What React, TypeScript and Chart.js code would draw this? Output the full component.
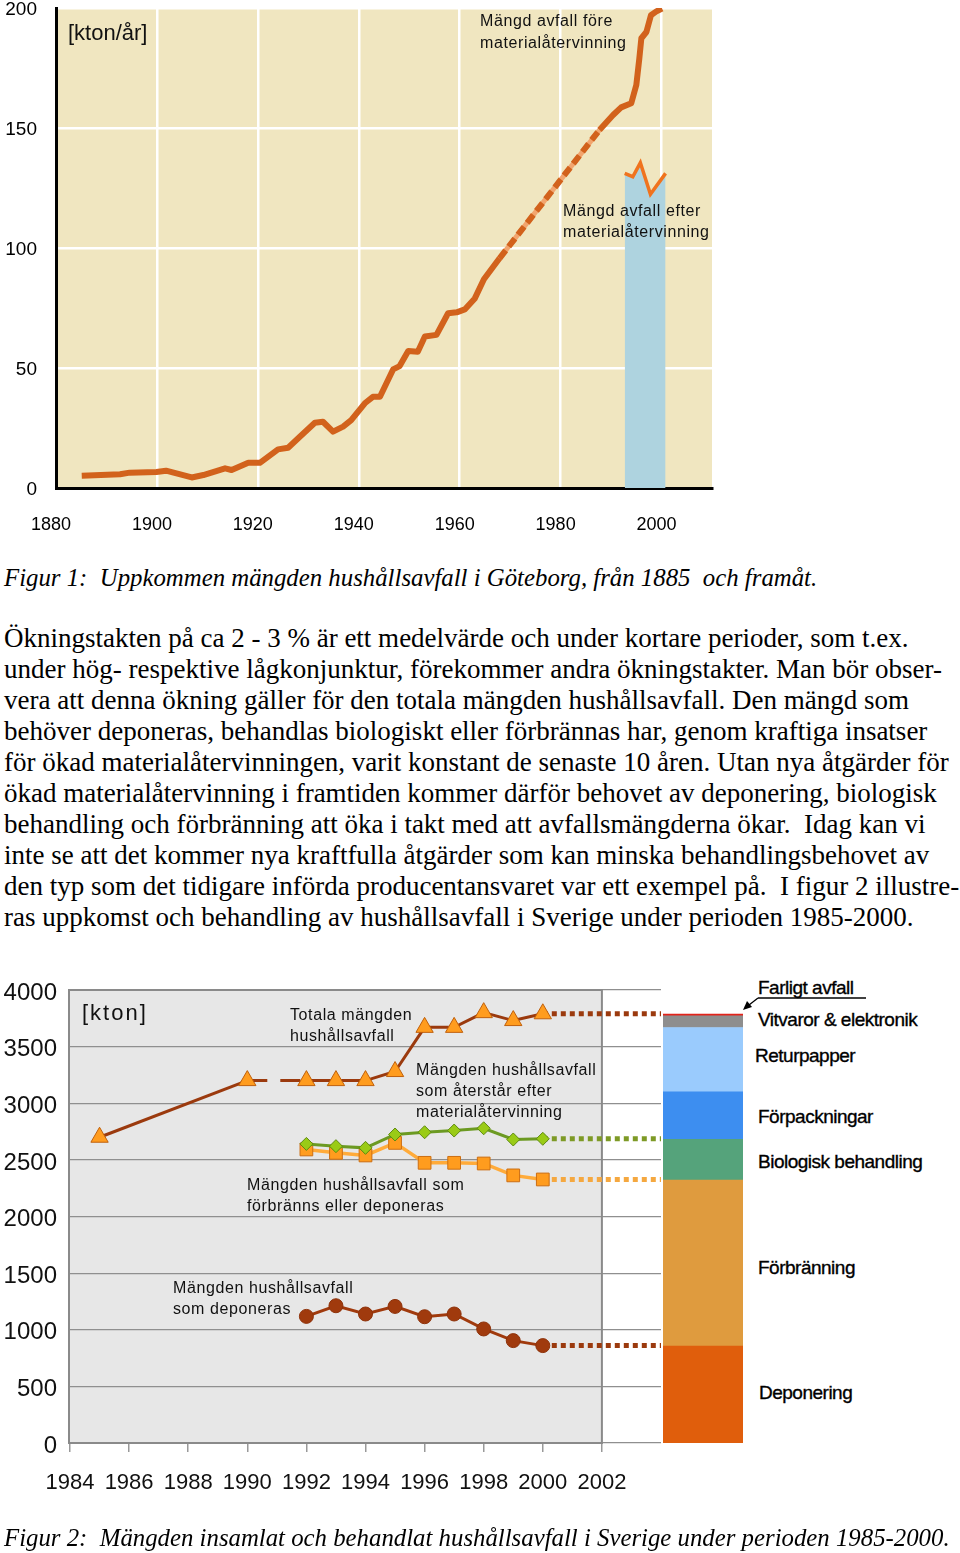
import React, { useEffect, useRef } from 'react';
import { Chart, registerables } from 'chart.js';

Chart.register(...registerables);

// ---------- Figure 1 data (Göteborg, kton/år) ----------
const fig1Years = [
  1885.1, 1892.7, 1894.6, 1899.9, 1901.8, 1906.9, 1909.2, 1913.5, 1914.8, 1918.1,
  1920.4, 1924.0, 1926.0, 1928.0, 1931.3, 1932.9, 1934.9, 1936.9, 1938.5, 1941.2,
  1942.8, 1944.2, 1946.8, 1948.1, 1949.8, 1951.7, 1953.1, 1955.4, 1957.7, 1959.4,
  1961.0, 1963.0, 1964.8, 1967.9, 1987.7, 1990.4, 1992.0, 1994.0, 1995.0, 1995.6,
  1996.0, 1997.0, 1997.9, 1998.9, 2000.1,
];
const fig1Values = [
  5.1, 5.7, 6.4, 6.7, 7.2, 4.4, 5.4, 8.2, 7.5, 10.5,
  10.5, 16.1, 16.8, 20.7, 27.2, 27.6, 23.5, 25.6, 28.3, 35.3,
  38.0, 38.0, 49.4, 50.8, 57.1, 56.8, 63.1, 63.8, 72.8, 73.2,
  74.4, 79.0, 87.0, 95.7, 149.2, 155.4, 158.6, 160.3, 167.9, 179.0,
  187.4, 190.0, 197.0, 198.5, 199.8,
];
const fig1DashedFromYear = 1967.9;
const fig1DashedToYear = 1987.7;
const fig1AfterYears = [1992.7, 1994.3, 1995.8, 1997.8, 2000.8];
const fig1AfterValues = [131.1, 129.7, 135.5, 122.4, 131.1];
const fig1XTicks = [1880, 1900, 1920, 1940, 1960, 1980, 2000];
const fig1YTicks = [0, 50, 100, 150, 200];

// ---------- Figure 2 data (Sverige, kton) ----------
const totalYears = [1985, 1990, 1992, 1993, 1994, 1995, 1996, 1997, 1998, 1999, 2000];
const totalValues = [2700, 3200, 3200, 3200, 3200, 3280, 3670, 3670, 3800, 3730, 3790];
const totalDashedFromYear = 1990;
const seriesYears = [1992, 1993, 1994, 1995, 1996, 1997, 1998, 1999, 2000];
const remainingValues = [2641, 2621, 2606, 2724, 2744, 2759, 2779, 2680, 2686];
const burnedOrLandfilledValues = [2592, 2562, 2539, 2650, 2474, 2474, 2468, 2363, 2327];
const landfilledValues = [1118, 1212, 1139, 1206, 1115, 1139, 1007, 904, 860];
const extensionToYear = 2004;
const fig2XTicks = [1984, 1986, 1988, 1990, 1992, 1994, 1996, 1998, 2000, 2002];
const fig2YTicks = [0, 500, 1000, 1500, 2000, 2500, 3000, 3500, 4000];

const treatmentLabels = [
  'Deponering', 'Förbränning', 'Biologisk behandling', 'Förpackningar',
  'Returpapper', 'Vitvaror & elektronik', 'Farligt avfall',
];
const treatmentValues = [856, 1465, 360, 420, 568, 103, 15];
const treatmentColors = ['#E05E0C', '#DF9B3E', '#55A37B', '#3D8EF0', '#9ACBFD', '#8E8E8E', '#E2231A'];

const paragraphLines = [
  'Ökningstakten på ca 2 - 3 % är ett medelvärde och under kortare perioder, som t.ex.',
  'under hög- respektive lågkonjunktur, förekommer andra ökningstakter. Man bör obser-',
  'vera att denna ökning gäller för den totala mängden hushållsavfall. Den mängd som',
  'behöver deponeras, behandlas biologiskt eller förbrännas har, genom kraftiga insatser',
  'för ökad materialåtervinningen, varit konstant de senaste 10 åren. Utan nya åtgärder för',
  'ökad materialåtervinning i framtiden kommer därför behovet av deponering, biologisk',
  'behandling och förbränning att öka i takt med att avfallsmängderna ökar.  Idag kan vi',
  'inte se att det kommer nya kraftfulla åtgärder som kan minska behandlingsbehovet av',
  'den typ som det tidigare införda producentansvaret var ett exempel på.  I figur 2 illustre-',
  'ras uppkomst och behandling av hushållsavfall i Sverige under perioden 1985-2000.',
];

const SANS = '"Liberation Sans", Arial, Helvetica, sans-serif';
const SERIF = '"Liberation Serif", "Times New Roman", serif';

const pts = (xs: number[], ys: number[]) => xs.map((x, i) => ({ x, y: ys[i] }));

const fixSize = (prop: 'width' | 'height', size: number) => (s: any) => {
  s[prop] = size;
  s.paddingTop = 0;
  s.paddingBottom = 0;
  s.paddingLeft = 0;
  s.paddingRight = 0;
};

function Figure1() {
  const ref = useRef<HTMLCanvasElement>(null);
  useEffect(() => {
    const i0 = fig1Years.indexOf(fig1DashedFromYear);
    const i1 = fig1Years.indexOf(fig1DashedToYear);
    const main = pts(fig1Years, fig1Values);
    const chart = new Chart(ref.current!, {
      type: 'line',
      data: {
        datasets: [
          {
            data: main,
            borderColor: '#D2621C',
            borderWidth: 6,
            pointRadius: 0,
            borderJoinStyle: 'round',
            borderCapStyle: 'butt',
            segment: {
              borderDash: (ctx: any) => (ctx.p0DataIndex === i0 ? [10, 5] : undefined),
            },
          },
          {
            data: main.slice(i0, i1 + 1),
            borderColor: '#F2A56E',
            borderWidth: 5,
            pointRadius: 0,
          },
          {
            data: pts(fig1AfterYears, fig1AfterValues),
            borderColor: '#F0731E',
            borderWidth: 3.5,
            pointRadius: 0,
            fill: 'origin',
            backgroundColor: '#AED3DF',
          },
        ],
      },
      options: {
        animation: false,
        responsive: false,
        layout: { padding: { left: 0, right: 8, top: 8, bottom: 0 }, autoPadding: false } as any,
        plugins: { legend: { display: false }, tooltip: { enabled: false } },
        scales: {
          x: {
            type: 'linear',
            min: 1880,
            max: 2010,
            afterBuildTicks: (s: any) => { s.ticks = fig1XTicks.map((v) => ({ value: v })); },
            afterFit: fixSize('height', 52),
            ticks: {
              color: '#000',
              font: { family: SANS, size: 18 },
              padding: 26,
              labelOffset: -5,
              maxRotation: 0,
              callback: (v: any) => String(v),
            },
            grid: { color: '#FFFFFF', lineWidth: 2.5, drawTicks: false },
            border: { display: true, color: '#000', width: 3 },
          },
          y: {
            min: 0,
            max: 200,
            afterBuildTicks: (s: any) => { s.ticks = fig1YTicks.map((v) => ({ value: v })); },
            afterFit: fixSize('width', 56),
            ticks: { color: '#000', font: { family: SANS, size: 19 }, padding: 19, labelOffset: 2, callback: (v: any) => String(v) },
            grid: { color: '#FFFFFF', lineWidth: 2.5, drawTicks: false },
            border: { display: true, color: '#000', width: 3 },
          },
        },
      },
      plugins: [
        {
          id: 'bg1',
          beforeDraw(c: any) {
            const { ctx, chartArea: a } = c;
            ctx.save();
            ctx.fillStyle = '#F0E6C0';
            ctx.fillRect(a.left, a.top - 1, a.right - a.left, a.bottom - a.top + 1);
            ctx.restore();
          },
        },
      ],
    } as any);
    return () => chart.destroy();
  }, []);
  return <canvas ref={ref} width={720} height={540} style={{ position: 'absolute', left: 0, top: 0 }} />;
}

function Figure2Lines() {
  const ref = useRef<HTMLCanvasElement>(null);
  useEffect(() => {
    const ext = (ys: number[], lastYear: number, color: string) => ({
      data: [
        { x: lastYear, y: ys[ys.length - 1] },
        { x: extensionToYear, y: ys[ys.length - 1] },
      ],
      borderColor: color,
      borderWidth: 5,
      borderDash: [5, 4],
      pointRadius: 0,
    });
    const lastSeriesYear = seriesYears[seriesYears.length - 1];
    const chart = new Chart(ref.current!, {
      type: 'line',
      data: {
        datasets: [
          {
            data: pts(seriesYears, landfilledValues),
            borderColor: '#A03A0D',
            borderWidth: 3,
            pointStyle: 'circle',
            pointRadius: 7,
            pointBackgroundColor: '#A03A0D',
            pointBorderColor: '#8E320A',
            pointBorderWidth: 1,
          },
          {
            data: pts(seriesYears, remainingValues),
            borderColor: '#6C9A22',
            borderWidth: 3,
            pointStyle: 'rectRot',
            pointRadius: 6.5,
            pointBackgroundColor: '#9ACB16',
            pointBorderColor: '#5E8A10',
            pointBorderWidth: 1,
          },
          {
            data: pts(seriesYears, burnedOrLandfilledValues),
            borderColor: '#FFAB3A',
            borderWidth: 3.5,
            pointStyle: 'rect',
            pointRadius: 9,
            pointBackgroundColor: '#FF9C1E',
            pointBorderColor: '#CC6E12',
            pointBorderWidth: 1,
          },
          {
            data: pts(totalYears, totalValues),
            borderColor: '#9B3A0E',
            borderWidth: 3,
            pointStyle: 'triangle',
            pointRadius: 10,
            pointBackgroundColor: '#FF9C1E',
            pointBorderColor: '#C0600C',
            pointBorderWidth: 1,
            segment: {
              borderDash: (ctx: any) =>
                ctx.p0.parsed.x === totalDashedFromYear ? [20, 13] : undefined,
            },
          },
          ext(totalValues, totalYears[totalYears.length - 1], '#9B3A0E'),
          ext(remainingValues, lastSeriesYear, '#7E9A26'),
          ext(burnedOrLandfilledValues, lastSeriesYear, '#F5A840'),
          ext(landfilledValues, lastSeriesYear, '#9B3A0E'),
        ],
      },
      options: {
        animation: false,
        responsive: false,
        layout: { padding: { left: 0, right: 4, top: 15, bottom: 0 }, autoPadding: false } as any,
        plugins: { legend: { display: false }, tooltip: { enabled: false } },
        scales: {
          x: {
            type: 'linear',
            min: 1984,
            max: extensionToYear,
            afterBuildTicks: (s: any) => { s.ticks = fig2XTicks.map((v) => ({ value: v })); },
            afterFit: fixSize('height', 52),
            ticks: {
              color: '#111',
              font: { family: SANS, size: 22 },
              padding: 18,
              maxRotation: 0,
              callback: (v: any) => String(v),
            },
            grid: { drawOnChartArea: false, drawTicks: true, tickLength: 9, color: '#999', lineWidth: 1.5 },
            border: { display: false },
          },
          y: {
            min: 0,
            max: 4000,
            afterBuildTicks: (s: any) => { s.ticks = fig2YTicks.map((v) => ({ value: v })); },
            afterFit: fixSize('width', 70),
            ticks: { color: '#111', font: { family: SANS, size: 24 }, padding: 13, labelOffset: 3, callback: (v: any) => String(v) },
            grid: { color: '#8F8F8F', lineWidth: 1.2, drawTicks: false },
            border: { display: false },
          },
        },
      },
      plugins: [
        {
          id: 'frame2',
          beforeDraw(c: any) {
            const { ctx, scales } = c;
            const l = scales.x.getPixelForValue(fig2XTicks[0]);
            const r = scales.x.getPixelForValue(fig2XTicks[fig2XTicks.length - 1]);
            const t = scales.y.getPixelForValue(fig2YTicks[fig2YTicks.length - 1]);
            const b = scales.y.getPixelForValue(0);
            ctx.save();
            ctx.fillStyle = '#E7E7E7';
            ctx.fillRect(l, t, r - l, b - t);
            ctx.restore();
          },
          beforeDatasetsDraw(c: any) {
            const { ctx, scales } = c;
            const l = scales.x.getPixelForValue(fig2XTicks[0]);
            const r = scales.x.getPixelForValue(fig2XTicks[fig2XTicks.length - 1]);
            const t = scales.y.getPixelForValue(fig2YTicks[fig2YTicks.length - 1]);
            const b = scales.y.getPixelForValue(0);
            ctx.save();
            ctx.strokeStyle = '#8A8A8A';
            ctx.lineWidth = 2;
            ctx.strokeRect(l - 1, t, r - l + 1, b - t);
            ctx.restore();
          },
        },
      ],
    } as any);
    return () => chart.destroy();
  }, []);
  return <canvas ref={ref} width={665} height={520} style={{ position: 'absolute', left: 0, top: 975 }} />;
}

function Figure2Bar() {
  const ref = useRef<HTMLCanvasElement>(null);
  useEffect(() => {
    const chart = new Chart(ref.current!, {
      type: 'bar',
      data: {
        labels: ['2000'],
        datasets: treatmentLabels.map((label, i) => ({
          label,
          data: [treatmentValues[i]],
          backgroundColor: treatmentColors[i],
          borderWidth: 0,
          barPercentage: 1,
          categoryPercentage: 1,
        })),
      },
      options: {
        animation: false,
        responsive: false,
        layout: { padding: { left: 0, right: 0, top: 15, bottom: 52 }, autoPadding: false } as any,
        plugins: { legend: { display: false }, tooltip: { enabled: false } },
        scales: {
          x: { stacked: true, display: false },
          y: { stacked: true, display: false, min: 0, max: 4000 },
        },
      },
    } as any);
    return () => chart.destroy();
  }, []);
  return <canvas ref={ref} width={80} height={520} style={{ position: 'absolute', left: 663, top: 975 }} />;
}

const abs = (left: number, top: number, extra: React.CSSProperties = {}): React.CSSProperties => ({
  position: 'absolute',
  left,
  top,
  whiteSpace: 'pre',
  margin: 0,
  ...extra,
});

export default function App() {
  const ann: React.CSSProperties = { fontFamily: SANS, fontSize: 16, letterSpacing: 0.6, lineHeight: '21px', color: '#111' };
  const barLab: React.CSSProperties = { fontFamily: SANS, fontSize: 19, letterSpacing: -0.5, lineHeight: '22px', color: '#000', WebkitTextStroke: '0.35px #000' } as any;
  return (
    <div style={{ position: 'absolute', left: 0, top: 0, width: 960, height: 1553, background: '#fff', overflow: 'hidden' }}>
      <Figure1 />
      <div style={abs(68, 20, { fontFamily: SANS, fontSize: 22, lineHeight: '26px', color: '#111' })}>[kton/år]</div>
      <div style={abs(480, 10, { ...ann, lineHeight: '22px' })}>{'Mängd avfall före\nmaterialåtervinning'}</div>
      <div style={abs(563, 200, { ...ann, lineHeight: '21px' })}>{'Mängd avfall efter\nmaterialåtervinning'}</div>

      <div style={abs(4, 563, { fontFamily: SERIF, fontStyle: 'italic', fontSize: 24.8, lineHeight: '30px' })}>
        {'Figur 1:  Uppkommen mängden hushållsavfall i Göteborg, från 1885  och framåt.'}
      </div>

      <div style={abs(4, 623, { fontFamily: SERIF, fontSize: 27, lineHeight: '31px', color: '#000' })}>
        {paragraphLines.map((l, i) => (
          <div key={i}>{l}</div>
        ))}
      </div>

      <Figure2Lines />
      <Figure2Bar />
      <div style={abs(82, 999, { fontFamily: SANS, fontSize: 22, letterSpacing: 2, lineHeight: '28px', color: '#111' })}>[kton]</div>
      <div style={abs(290, 1004, ann)}>{'Totala mängden\nhushållsavfall'}</div>
      <div style={abs(416, 1059, ann)}>{'Mängden hushållsavfall\nsom återstår efter\nmaterialåtervinning'}</div>
      <div style={abs(247, 1174, ann)}>{'Mängden hushållsavfall som\nförbränns eller deponeras'}</div>
      <div style={abs(173, 1277, ann)}>{'Mängden hushållsavfall\nsom deponeras'}</div>

      <div style={abs(758, 977, barLab)}>{treatmentLabels[6]}</div>
      <div style={abs(758, 1009, barLab)}>{treatmentLabels[5]}</div>
      <div style={abs(755, 1045, barLab)}>{treatmentLabels[4]}</div>
      <div style={abs(758, 1106, barLab)}>{treatmentLabels[3]}</div>
      <div style={abs(758, 1151, barLab)}>{treatmentLabels[2]}</div>
      <div style={abs(758, 1257, barLab)}>{treatmentLabels[1]}</div>
      <div style={abs(759, 1382, barLab)}>{treatmentLabels[0]}</div>
      <svg width={960} height={1553} style={{ position: 'absolute', left: 0, top: 0, pointerEvents: 'none' }}>
        <line x1={758} y1={998} x2={866} y2={998} stroke="#000" strokeWidth={1.3} />
        <line x1={758} y1={998} x2={749} y2={1005} stroke="#000" strokeWidth={1.3} />
        <polygon points="743,1010 747,1001 752,1007" fill="#000" />
      </svg>

      <div style={abs(4, 1523, { fontFamily: SERIF, fontStyle: 'italic', fontSize: 24.8, lineHeight: '30px' })}>
        {'Figur 2:  Mängden insamlat och behandlat hushållsavfall i Sverige under perioden 1985-2000.'}
      </div>
    </div>
  );
}
